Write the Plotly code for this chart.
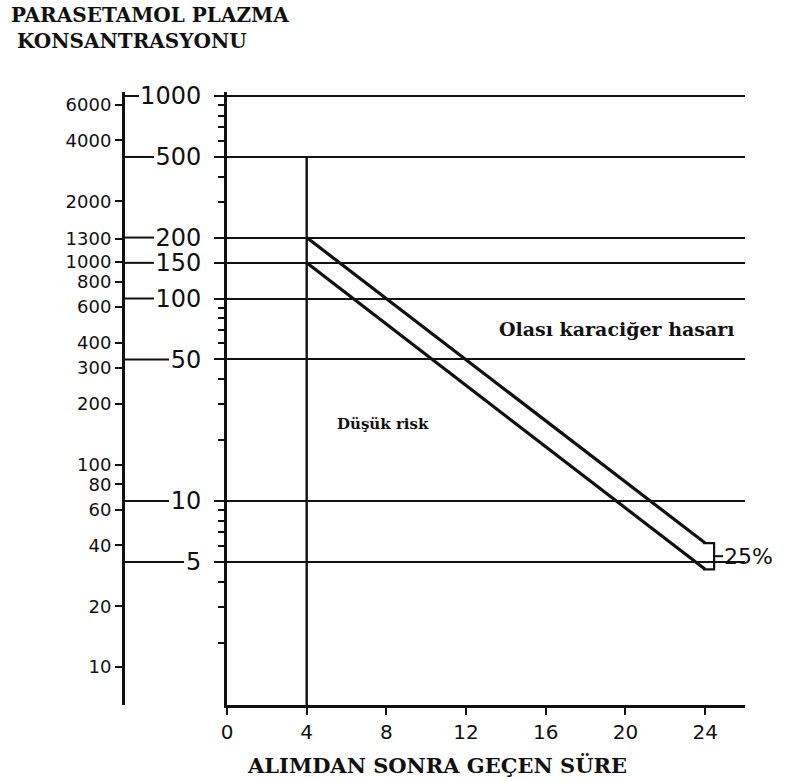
import math
import plotly.graph_objects as go

# ---------------- data ----------------
time_hours = [4, 24]
upper_line_mg = [200, 6.2]      # "200" line (mg/L)
lower_line_mg = [150, 4.6]      # "150" line (mg/L), 25% lower
x_ticks = [0, 4, 8, 12, 16, 20, 24]
mg_ticks = [5, 10, 50, 100, 150, 200, 500, 1000]
mg_minor = [2, 3, 4, 6, 7, 8, 9, 20, 30, 40, 60, 70, 80, 90, 300, 400, 600, 700, 800, 900]
umol_ticks = [10, 20, 40, 60, 80, 100, 200, 300, 400, 600, 800, 1000, 1300, 2000, 4000, 6000]
UMOL_PER_MG = 6.615
bracket_x = [23.9, 24.45]
bracket_label = "25%"

# ---------------- layout geometry ----------------
# the page body margin is removed in post_script, so figure pixels == window pixels
W, H = 786, 781
PL, PR, PT, PB = 110, 750, 92, 705      # plot-area edges in window pixels
ML, MR, MT, MB = PL, W - PR, PT, H - PB
PW = PR - PL
PH = PB - PT
Y_LOG_MIN, Y_LOG_MAX = -0.0074, 3.0198


def px_x(p):
    return (p - PL) / PW


def py(p):
    return 1 - (p - PT) / PH


def ly(v):
    return (math.log10(v) - Y_LOG_MIN) / (Y_LOG_MAX - Y_LOG_MIN)


FONT_NUM = "DejaVu Sans"
FONT_TXT = "DejaVu Serif"
INK = "#111111"

fig = go.Figure()

# diagonal treatment lines
fig.add_trace(go.Scatter(x=time_hours, y=upper_line_mg, mode="lines",
                         line=dict(color=INK, width=3.2), showlegend=False, hoverinfo="skip"))
fig.add_trace(go.Scatter(x=time_hours, y=lower_line_mg, mode="lines",
                         line=dict(color=INK, width=3.2), showlegend=False, hoverinfo="skip"))

# 25% bracket
bx0, bx1 = bracket_x
fig.add_trace(go.Scatter(x=[bx0, bx1, bx1, bx0], y=[upper_line_mg[1], upper_line_mg[1], lower_line_mg[1], lower_line_mg[1]],
                         mode="lines", line=dict(color=INK, width=2.2), showlegend=False,
                         hoverinfo="skip", cliponaxis=False))
mid = math.sqrt(upper_line_mg[1] * lower_line_mg[1])
fig.add_trace(go.Scatter(x=[bx1, bx1 + 0.45], y=[mid, mid], mode="lines",
                         line=dict(color=INK, width=2), showlegend=False, hoverinfo="skip", cliponaxis=False))

# invisible trace to carry the µmol/L axis
fig.add_trace(go.Scatter(x=[0], y=[100], yaxis="y2", mode="markers", marker=dict(opacity=0),
                         showlegend=False, hoverinfo="skip"))

shapes = []
# vertical line at 4 h
shapes.append(dict(type="line", xref="x", yref="paper", x0=4, x1=4, y0=0, y1=ly(500),
                   line=dict(color=INK, width=2.4)))
# dashes from the left (µmol/L) axis toward the mg/L labels
for v in mg_ticks:
    lab_w = len(str(v)) * 15
    x_end = 207 - lab_w - 8
    shapes.append(dict(type="line", xref="paper", yref="paper", x0=px_x(124), x1=px_x(x_end),
                       y0=ly(v), y1=ly(v), line=dict(color=INK, width=2)))

annotations = [
    dict(text="<b>PARASETAMOL PLAZMA</b>", xref="paper", yref="paper", x=px_x(9), y=py(15),
         xanchor="left", yanchor="middle", showarrow=False, font=dict(family=FONT_TXT, size=20, color=INK)),
    dict(text="<b>KONSANTRASYONU</b>", xref="paper", yref="paper", x=px_x(15), y=py(41),
         xanchor="left", yanchor="middle", showarrow=False, font=dict(family=FONT_TXT, size=20, color=INK)),
    dict(text="<b>Olası karaciğer hasarı</b>", xref="paper", yref="paper", x=px_x(617), y=py(329),
         xanchor="center", yanchor="middle", showarrow=False, font=dict(family=FONT_TXT, size=19, color=INK)),
    dict(text="<b>Düşük risk</b>", xref="paper", yref="paper", x=px_x(383), y=py(424),
         xanchor="center", yanchor="middle", showarrow=False, font=dict(family=FONT_TXT, size=15, color=INK)),
    dict(text="<b>ALIMDAN SONRA GEÇEN SÜRE</b>", xref="paper", yref="paper", x=px_x(437), y=py(765),
         xanchor="center", yanchor="middle", showarrow=False, font=dict(family=FONT_TXT, size=21, color=INK)),
    dict(text=bracket_label, xref="paper", yref="paper", x=px_x(722), y=ly(mid),
         xanchor="left", yanchor="middle", showarrow=False, font=dict(family=FONT_NUM, size=22, color=INK)),
]

fig.update_layout(
    width=W, height=H,
    margin=dict(l=ML, r=MR, t=MT, b=MB, autoexpand=False),
    paper_bgcolor="white", plot_bgcolor="white",
    showlegend=False,
    shapes=shapes,
    annotations=annotations,
    xaxis=dict(domain=[px_x(227), px_x(745)], range=[0, 26], tickvals=x_ticks,
               ticktext=[str(t) for t in x_ticks], ticks="outside", ticklen=7, tickwidth=2,
               tickcolor=INK, showline=True, linewidth=3, linecolor=INK, showgrid=False,
               zeroline=False, automargin=False,
               tickfont=dict(family=FONT_NUM, size=20, color=INK), fixedrange=True),
    yaxis=dict(type="log", range=[Y_LOG_MIN, Y_LOG_MAX], tickvals=mg_ticks,
               ticktext=[str(t) for t in mg_ticks], ticks="outside", ticklen=10, tickwidth=2,
               tickcolor=INK, showline=True, linewidth=3, linecolor=INK,
               showgrid=True, gridcolor=INK, gridwidth=2, zeroline=False, automargin=False,
               ticklabelstandoff=8,
               tickfont=dict(family=FONT_NUM, size=24, color=INK),
               minor=dict(tickvals=mg_minor, ticks="outside", ticklen=6, tickwidth=2,
                          tickcolor=INK, showgrid=False)),
    yaxis2=dict(type="log", range=[Y_LOG_MIN + math.log10(UMOL_PER_MG), Y_LOG_MAX + math.log10(UMOL_PER_MG)],
                overlaying="y", anchor="free", position=px_x(123), side="left",
                tickvals=umol_ticks, ticktext=[str(t) for t in umol_ticks],
                ticks="outside", ticklen=7, tickwidth=2, tickcolor=INK, automargin=False,
                showline=True, linewidth=3, linecolor=INK, showgrid=False, zeroline=False,
                tickfont=dict(family=FONT_NUM, size=18, color=INK)),
)

fig.write_html("out.html", config={"displayModeBar": False},
               post_script="document.body.style.margin='0px';")
